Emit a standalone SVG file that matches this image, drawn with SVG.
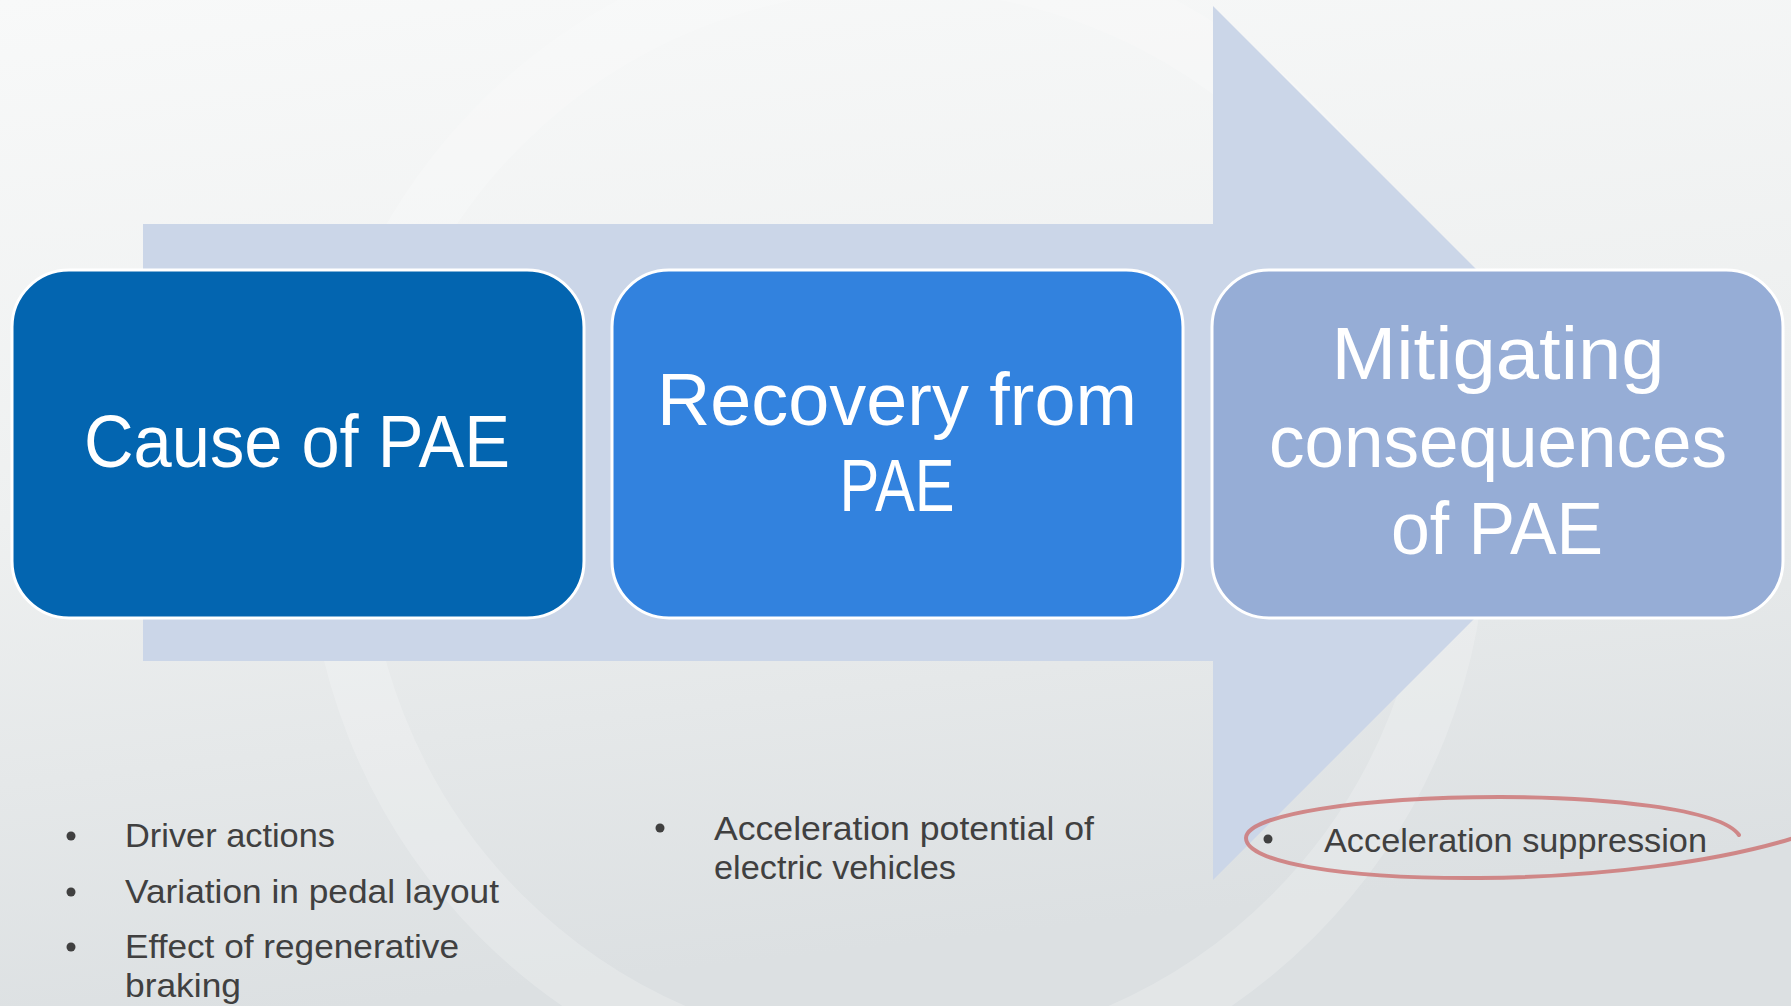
<svg xmlns="http://www.w3.org/2000/svg" width="1791" height="1006" viewBox="0 0 1791 1006">
<defs>
<linearGradient id="bg" x1="0" y1="0" x2="0.2" y2="1">
<stop offset="0" stop-color="#F8F9F9"/>
<stop offset="0.5" stop-color="#EEF0F0"/>
<stop offset="1" stop-color="#DCE0E2"/>
</linearGradient>
<style>
.box{stroke:#FFFFFF;stroke-width:3}
.title{font-family:"Liberation Sans","Noto Sans",sans-serif;fill:#FFFFFF;font-size:75px;text-anchor:middle}
.bul{font-family:"Liberation Sans","Noto Sans",sans-serif;fill:#404040;font-size:33px}
.dot{fill:#404040}
</style>
</defs>
<rect x="0" y="0" width="1791" height="1006" fill="url(#bg)"/>
<g id="watermark" fill="none" stroke="#FFFFFF" stroke-opacity="0.2">
<circle cx="897" cy="520" r="560" stroke-width="60"/>
</g>
<g id="connectors">
<polygon points="143,224 1213,224 1213,6 1650,443 1213,880 1213,661 143,661" fill="#CBD6E8"/>
</g>
<g id="node-cause">
<rect class="box" x="12" y="270" width="572" height="348" rx="57" ry="57" fill="#0365B0"/>
<text class="title" x="297" y="467" textLength="426" lengthAdjust="spacingAndGlyphs">Cause of PAE</text>
</g>
<g id="node-recovery">
<rect class="box" x="612" y="270" width="571" height="348" rx="57" ry="57" fill="#3282DE"/>
<text class="title" x="897" y="425" textLength="480" lengthAdjust="spacingAndGlyphs">Recovery from</text>
<text class="title" x="897" y="511" textLength="115" lengthAdjust="spacingAndGlyphs">PAE</text>
</g>
<g id="node-mitigating">
<rect class="box" x="1212" y="270" width="571" height="348" rx="57" ry="57" fill="#96ADD6"/>
<text class="title" x="1498" y="379" textLength="333" lengthAdjust="spacingAndGlyphs">Mitigating</text>
<text class="title" x="1498" y="467" textLength="458" lengthAdjust="spacingAndGlyphs">consequences</text>
<text class="title" x="1497" y="554" textLength="212" lengthAdjust="spacingAndGlyphs">of PAE</text>
</g>
<g id="list-cause">
<circle class="dot" cx="71" cy="836" r="4.5"/>
<text class="bul" x="125" y="847" textLength="210" lengthAdjust="spacingAndGlyphs">Driver actions</text>
<circle class="dot" cx="71" cy="892" r="4.5"/>
<text class="bul" x="125" y="903" textLength="374" lengthAdjust="spacingAndGlyphs">Variation in pedal layout</text>
<circle class="dot" cx="71" cy="947" r="4.5"/>
<text class="bul" x="125" y="958" textLength="334" lengthAdjust="spacingAndGlyphs">Effect of regenerative</text>
<text class="bul" x="125" y="997" textLength="116" lengthAdjust="spacingAndGlyphs">braking</text>
</g>
<g id="list-recovery">
<circle class="dot" cx="660" cy="828" r="4.5"/>
<text class="bul" x="714" y="840" textLength="380" lengthAdjust="spacingAndGlyphs">Acceleration potential of</text>
<text class="bul" x="714" y="879" textLength="242" lengthAdjust="spacingAndGlyphs">electric vehicles</text>
</g>
<g id="list-mitigating">
<circle class="dot" cx="1268" cy="839" r="4.5"/>
<text class="bul" x="1324" y="852" textLength="383" lengthAdjust="spacingAndGlyphs">Acceleration suppression</text>
<path d="M1739,835 C1720,808 1600,797 1500,797 C1360,797 1246,815 1246,838 C1246,862 1340,879 1480,878 C1600,877 1720,862 1800,836" fill="none" stroke="#CC7070" stroke-opacity="0.8" stroke-width="4" stroke-linecap="round"/>
</g>
</svg>
